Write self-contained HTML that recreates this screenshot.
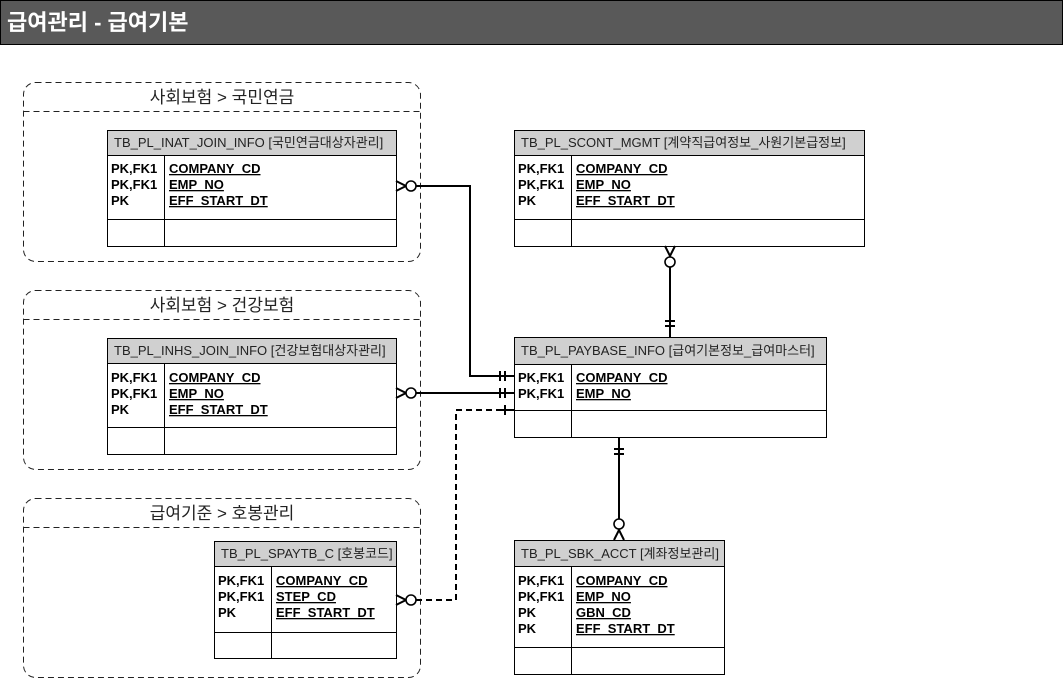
<!DOCTYPE html>
<html><head><meta charset="utf-8"><style>
body{margin:0;background:#fff;width:1063px;height:678px;overflow:hidden}
svg text{font-family:"Liberation Sans","Noto Sans CJK KR",sans-serif}
.h{font-size:13px;fill:#222}
.b{font-size:13px;font-weight:bold;fill:#000}
.u{text-decoration:underline}
.g{font-size:17px;fill:#222}
</style></head><body>
<svg width="1063" height="678" xmlns="http://www.w3.org/2000/svg">
<rect x="0.5" y="0.5" width="1062" height="44" fill="#595959" stroke="#000"/>
<text x="7" y="30" style="font-size:22px;font-weight:bold;fill:#fff">급여관리 - 급여기본</text>

<g fill="none" stroke="#222" stroke-width="1" stroke-dasharray="6,4">
<rect x="23.5" y="82.5" width="397" height="179" rx="12"/>
<line x1="23.5" y1="111.5" x2="420.5" y2="111.5"/>
<rect x="23.5" y="290.5" width="397" height="179" rx="12"/>
<line x1="23.5" y1="319.5" x2="420.5" y2="319.5"/>
<rect x="23.5" y="498.5" width="397" height="179" rx="12"/>
<line x1="23.5" y1="527.5" x2="420.5" y2="527.5"/>
</g>
<text class="g" x="222" y="103" text-anchor="middle">사회보험 &gt; 국민연금</text>
<text class="g" x="222" y="311" text-anchor="middle">사회보험 &gt; 건강보험</text>
<text class="g" x="222" y="519" text-anchor="middle">급여기준 &gt; 호봉관리</text>

<g stroke="#000" stroke-width="1">
<rect x="107.5" y="130.5" width="289" height="25" fill="#d0d0d0"/>
<rect x="107.5" y="155.5" width="289" height="91" fill="#fff"/>
<line x1="107.5" y1="219.5" x2="396.5" y2="219.5"/><line x1="164.5" y1="155.5" x2="164.5" y2="246.5"/>
<rect x="107.5" y="338.5" width="289" height="25" fill="#d0d0d0"/>
<rect x="107.5" y="363.5" width="289" height="91" fill="#fff"/>
<line x1="107.5" y1="427.5" x2="396.5" y2="427.5"/><line x1="164.5" y1="363.5" x2="164.5" y2="454.5"/>
<rect x="214.5" y="541.5" width="182" height="25" fill="#d0d0d0"/>
<rect x="214.5" y="566.5" width="182" height="92" fill="#fff"/>
<line x1="214.5" y1="632.5" x2="396.5" y2="632.5"/><line x1="271.5" y1="566.5" x2="271.5" y2="658.5"/>
<rect x="514.5" y="130.5" width="350" height="25" fill="#d0d0d0"/>
<rect x="514.5" y="155.5" width="350" height="91" fill="#fff"/>
<line x1="514.5" y1="219.5" x2="864.5" y2="219.5"/><line x1="571.5" y1="155.5" x2="571.5" y2="246.5"/>
<rect x="514.5" y="337.5" width="312" height="27" fill="#d0d0d0"/>
<rect x="514.5" y="364.5" width="312" height="73" fill="#fff"/>
<line x1="514.5" y1="410.5" x2="826.5" y2="410.5"/><line x1="571.5" y1="364.5" x2="571.5" y2="437.5"/>
<rect x="514.5" y="540.5" width="210" height="26" fill="#d0d0d0"/>
<rect x="514.5" y="566.5" width="210" height="108" fill="#fff"/>
<line x1="514.5" y1="647.5" x2="724.5" y2="647.5"/><line x1="571.5" y1="566.5" x2="571.5" y2="674.5"/>
</g>

<text class="h" x="114" y="147">TB_PL_INAT_JOIN_INFO [국민연금대상자관리]</text>
<text class="b" x="111" y="173">PK,FK1</text><text class="b" x="111" y="189">PK,FK1</text><text class="b" x="111" y="205">PK</text>
<text class="b u" x="169" y="173">COMPANY_CD</text><text class="b u" x="169" y="189">EMP_NO</text><text class="b u" x="169" y="205">EFF_START_DT</text>

<text class="h" x="114" y="355">TB_PL_INHS_JOIN_INFO [건강보험대상자관리]</text>
<text class="b" x="111" y="382">PK,FK1</text><text class="b" x="111" y="398">PK,FK1</text><text class="b" x="111" y="414">PK</text>
<text class="b u" x="169" y="382">COMPANY_CD</text><text class="b u" x="169" y="398">EMP_NO</text><text class="b u" x="169" y="414">EFF_START_DT</text>

<text class="h" x="221" y="558">TB_PL_SPAYTB_C [호봉코드]</text>
<text class="b" x="218" y="585">PK,FK1</text><text class="b" x="218" y="601">PK,FK1</text><text class="b" x="218" y="617">PK</text>
<text class="b u" x="276" y="585">COMPANY_CD</text><text class="b u" x="276" y="601">STEP_CD</text><text class="b u" x="276" y="617">EFF_START_DT</text>

<text class="h" x="521" y="147">TB_PL_SCONT_MGMT [계약직급여정보_사원기본급정보]</text>
<text class="b" x="518" y="173">PK,FK1</text><text class="b" x="518" y="189">PK,FK1</text><text class="b" x="518" y="205">PK</text>
<text class="b u" x="576" y="173">COMPANY_CD</text><text class="b u" x="576" y="189">EMP_NO</text><text class="b u" x="576" y="205">EFF_START_DT</text>

<text class="h" x="521" y="355">TB_PL_PAYBASE_INFO [급여기본정보_급여마스터]</text>
<text class="b" x="518" y="382">PK,FK1</text><text class="b" x="518" y="398">PK,FK1</text>
<text class="b u" x="576" y="382">COMPANY_CD</text><text class="b u" x="576" y="398">EMP_NO</text>

<text class="h" x="521" y="558">TB_PL_SBK_ACCT [계좌정보관리]</text>
<text class="b" x="518" y="585">PK,FK1</text><text class="b" x="518" y="601">PK,FK1</text><text class="b" x="518" y="617">PK</text><text class="b" x="518" y="633">PK</text>
<text class="b u" x="576" y="585">COMPANY_CD</text><text class="b u" x="576" y="601">EMP_NO</text><text class="b u" x="576" y="617">GBN_CD</text><text class="b u" x="576" y="633">EFF_START_DT</text>

<g fill="none" stroke="#000" stroke-width="2">
<path d="M416 186 H470 V376 H514"/>
<path d="M396 181 L406 186 L396 191"/>
<line x1="500" y1="371" x2="500" y2="381"/><line x1="505" y1="371" x2="505" y2="381"/>
<path d="M416 393 H514"/>
<path d="M396 388 L406 393 L396 398"/>
<line x1="500" y1="388" x2="500" y2="398"/><line x1="505" y1="388" x2="505" y2="398"/>
<path d="M416 600 H456 V410 H500" stroke-dasharray="6,4"/>
<line x1="500" y1="410" x2="514" y2="410"/>
<path d="M396 595 L406 600 L396 605"/>
<line x1="505" y1="405" x2="505" y2="415"/>
<path d="M670 267 V337"/>
<path d="M665 246 L670 256 L675 246"/>
<line x1="665" y1="321" x2="675" y2="321"/><line x1="665" y1="326" x2="675" y2="326"/>
<path d="M619 438 V519"/>
<line x1="614" y1="449" x2="624" y2="449"/><line x1="614" y1="454" x2="624" y2="454"/>
<path d="M614 540 L619 530 L624 540"/>
</g>
<g fill="#fff" stroke="#000" stroke-width="1.6">
<circle cx="411" cy="186" r="5"/>
<circle cx="411" cy="393" r="5"/>
<circle cx="411" cy="600" r="5"/>
<circle cx="670" cy="262" r="5"/>
<circle cx="619" cy="524" r="5"/>
</g>
</svg>
</body></html>
